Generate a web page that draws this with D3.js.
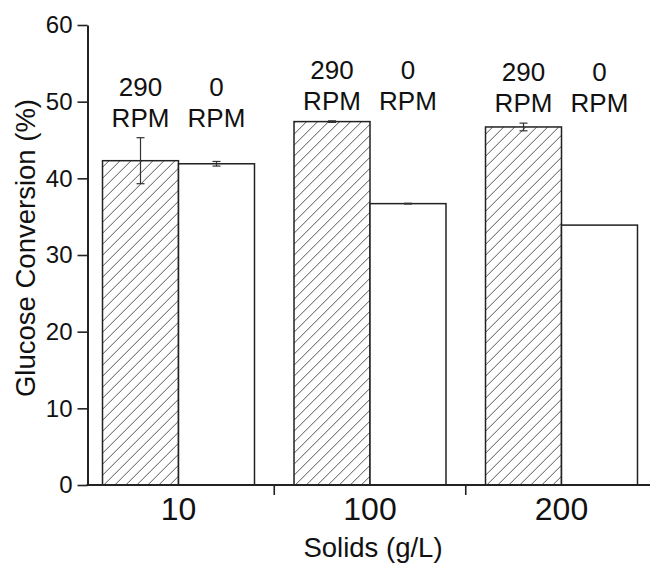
<!DOCTYPE html>
<html>
<head>
<meta charset="utf-8">
<script src="https://cdn.jsdelivr.net/npm/d3@7"></script>
<style>
  html, body { margin: 0; padding: 0; background: #fff; }
  svg { display: block; font-family: "Liberation Sans", Arial, sans-serif; }
</style>
</head>
<body>
<svg id="chart" width="650" height="565"></svg>
<script>
// ---- data ----
const categories = ["10", "100", "200"];
const seriesNames = ["290 RPM", "0 RPM"];
const seriesTop = ["290", "0"];
const rpm290 = [42.3, 47.4, 46.7];
const err290 = [3.0, 0.1, 0.5];
const rpm0 = [41.9, 36.7, 33.9];
const err0 = [0.3, 0.05, 0];
const yTicks = [0, 10, 20, 30, 40, 50, 60];
const xTitle = "Solids (g/L)";
const yTitle = "Glucose Conversion (%)";

// ---- layout ----
const axisLeftX = 87.5, plotRight = 650;
const svg = d3.select("#chart");

const y = d3.scaleLinear().domain([0, 60]).range([485, 25]);
const x0 = d3.scaleBand().domain(categories).range([82.75, 657.25]).paddingInner(0).paddingOuter(0);
const x1 = d3.scaleBand().domain(seriesNames).range([0, x0.bandwidth()]).paddingInner(0).paddingOuter(0.26);

const rows = categories.map((c, i) => ({
  cat: c,
  bars: [
    { s: seriesNames[0], top: seriesTop[0], v: rpm290[i], e: err290[i], hatch: true },
    { s: seriesNames[1], top: seriesTop[1], v: rpm0[i], e: err0[i], hatch: false }
  ]
}));

// hatch pattern
const defs = svg.append("defs");
const pat = defs.append("pattern").attr("id", "hatch")
  .attr("patternUnits", "userSpaceOnUse").attr("width", 11).attr("height", 11);
pat.append("rect").attr("width", 11).attr("height", 11).attr("fill", "#fff");
pat.append("path").attr("d", "M0,11 L11,0 M-3,3 L3,-3 M8,14 L14,8")
  .attr("stroke", "#555").attr("stroke-width", 1).attr("fill", "none");

// bars
const g = svg.append("g");
const grp = g.selectAll("g.grp").data(rows).join("g").attr("class", "grp")
  .attr("transform", d => `translate(${x0(d.cat)},0)`);

grp.selectAll("rect").data(d => d.bars).join("rect")
  .attr("x", b => x1(b.s))
  .attr("y", b => y(b.v))
  .attr("width", x1.bandwidth())
  .attr("height", b => y(0) - y(b.v))
  .attr("fill", b => b.hatch ? "url(#hatch)" : "#fff")
  .attr("stroke", "#222").attr("stroke-width", 1.5);

// error bars
grp.each(function (d) {
  const gg = d3.select(this);
  d.bars.forEach(b => {
    if (b.e <= 0) return;
    const cx = x1(b.s) + x1.bandwidth() / 2;
    const cap = 4;
    gg.append("line").attr("x1", cx).attr("x2", cx)
      .attr("y1", y(b.v + b.e)).attr("y2", y(b.v - b.e))
      .attr("stroke", "#333").attr("stroke-width", 1.2);
    [b.v + b.e, b.v - b.e].forEach(val => {
      gg.append("line").attr("x1", cx - cap).attr("x2", cx + cap)
        .attr("y1", y(val)).attr("y2", y(val))
        .attr("stroke", "#333").attr("stroke-width", 1.2);
    });
  });
});

// labels above groups
grp.each(function (d) {
  const gg = d3.select(this);
  const maxTop = d3.max(d.bars, b => b.v + b.e);
  const base = y(maxTop) - 11;
  d.bars.forEach(b => {
    const cx = x1(b.s) + x1.bandwidth() / 2;
    gg.append("text").attr("x", cx).attr("y", base - 31)
      .attr("text-anchor", "middle").attr("font-size", 26).attr("fill", "#111")
      .text(b.top);
    gg.append("text").attr("x", cx).attr("y", base)
      .attr("text-anchor", "middle").attr("font-size", 26).attr("fill", "#111")
      .text("RPM");
  });
});

// y axis
const yAxis = svg.append("g").attr("transform", `translate(${axisLeftX},0)`)
  .call(d3.axisLeft(y).tickValues(yTicks).tickSize(10).tickSizeOuter(0).tickPadding(5).tickFormat(d3.format("d")));
yAxis.select(".domain").attr("stroke", "#222").attr("stroke-width", 2);
yAxis.selectAll(".tick line").attr("stroke", "#222").attr("stroke-width", 1.6);
yAxis.selectAll(".tick text").attr("font-size", 24).attr("fill", "#111")
  .attr("font-family", "Liberation Sans, Arial, sans-serif");

// x axis
const xAxis = svg.append("g").attr("transform", `translate(0,${y(0)})`)
  .call(d3.axisBottom(x0).tickSize(0).tickPadding(12));
xAxis.select(".domain").remove();
xAxis.selectAll(".tick text").attr("font-size", 32).attr("fill", "#111")
  .attr("font-family", "Liberation Sans, Arial, sans-serif");
svg.append("line").attr("x1", axisLeftX - 1).attr("x2", plotRight)
  .attr("y1", y(0)).attr("y2", y(0)).attr("stroke", "#222").attr("stroke-width", 2);
// separator ticks between groups
svg.selectAll("line.sep").data(categories.slice(0, -1)).join("line").attr("class", "sep")
  .attr("x1", c => x0(c) + x0.step()).attr("x2", c => x0(c) + x0.step())
  .attr("y1", y(0)).attr("y2", y(0) + 10)
  .attr("stroke", "#222").attr("stroke-width", 1.6);

// titles
svg.append("text").attr("x", 373).attr("y", 557).attr("text-anchor", "middle")
  .attr("font-size", 27.5).attr("fill", "#111").text(xTitle);
svg.append("text").attr("transform", "translate(35,248) rotate(-90)")
  .attr("text-anchor", "middle").attr("font-size", 27.5).attr("fill", "#111").text(yTitle);
</script>
</body>
</html>
